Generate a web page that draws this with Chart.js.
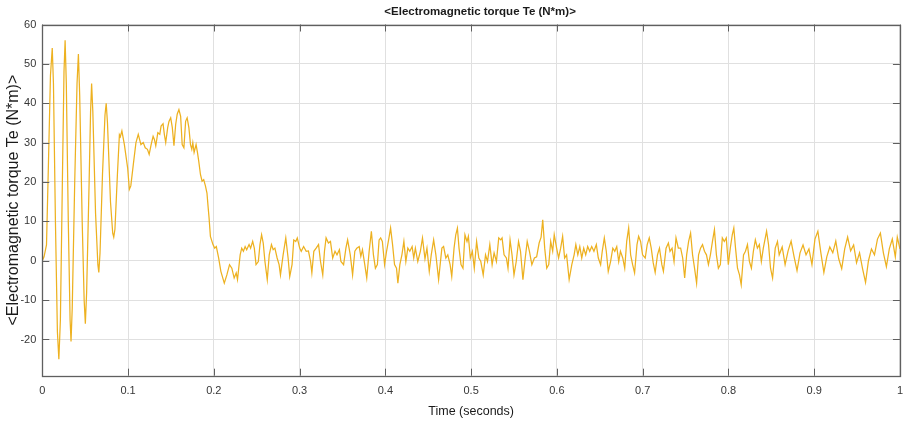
<!DOCTYPE html>
<html>
<head>
<meta charset="utf-8">
<script src="https://cdn.jsdelivr.net/npm/chart.js@4.4.1/dist/chart.umd.min.js"></script>
<style>
  html, body { margin: 0; padding: 0; background: #ffffff; }
  #wrap { width: 912px; height: 424px; position: relative; }
</style>
</head>
<body>
<div id="wrap"><canvas id="c" width="912" height="424"></canvas></div>
<script>
const chartTitle = "<Electromagnetic torque Te (N*m)>";
const xAxisTitle = "Time (seconds)";
const yAxisTitle = "<Electromagnetic torque Te (N*m)>";
const xTicks = [0, 0.1, 0.2, 0.3, 0.4, 0.5, 0.6, 0.7, 0.8, 0.9, 1];
const yTicks = [-20, -10, 0, 10, 20, 30, 40, 50, 60];

const timeS = [
  0, 0.0020, 0.0049, 0.0072, 0.0095, 0.0116, 0.0130, 0.0153, 0.0176, 0.0193,
  0.0211, 0.0234, 0.0253, 0.0266, 0.0280, 0.0303, 0.0324, 0.0335, 0.0349, 0.0378,
  0.0405, 0.0421, 0.0436, 0.0465, 0.0488, 0.0502, 0.0517, 0.0546, 0.0563, 0.0575,
  0.0589, 0.0621, 0.0648, 0.0659, 0.0673, 0.0702, 0.0731, 0.0745, 0.0760, 0.0795,
  0.0821, 0.0833, 0.0847, 0.0876, 0.0899, 0.0910, 0.0928, 0.0957, 0.0995, 0.1015,
  0.1032, 0.1061, 0.1092, 0.1119, 0.1150, 0.1177, 0.1200, 0.1226, 0.1246, 0.1269,
  0.1292, 0.1307, 0.1323, 0.1347, 0.1370, 0.1385, 0.1408, 0.1423, 0.1439, 0.1462,
  0.1477, 0.1497, 0.1516, 0.1535, 0.1555, 0.1573, 0.1593, 0.1613, 0.1631, 0.1651,
  0.1671, 0.1689, 0.1709, 0.1728, 0.1743, 0.1755, 0.1770, 0.1793, 0.1809, 0.1824,
  0.1844, 0.1863, 0.1882, 0.1902, 0.1920, 0.1932, 0.1944, 0.1960, 0.1990, 0.2010,
  0.2029, 0.2056, 0.2082, 0.2122, 0.2152, 0.2183, 0.2210, 0.2237, 0.2261, 0.2276,
  0.2307, 0.2325, 0.2345, 0.2365, 0.2383, 0.2411, 0.2429, 0.2453, 0.2472, 0.2492,
  0.2519, 0.2538, 0.2557, 0.2576, 0.2596, 0.2623, 0.2646, 0.2672, 0.2692, 0.2712,
  0.2738, 0.2761, 0.2777, 0.2808, 0.2839, 0.2866, 0.2885, 0.2912, 0.2932, 0.2955,
  0.2973, 0.3001, 0.3019, 0.3047, 0.3077, 0.3103, 0.3128, 0.3143, 0.3166, 0.3193,
  0.3221, 0.3244, 0.3270, 0.3290, 0.3309, 0.3336, 0.3360, 0.3386, 0.3413, 0.3436,
  0.3464, 0.3482, 0.3513, 0.3540, 0.3560, 0.3591, 0.3618, 0.3644, 0.3667, 0.3695,
  0.3714, 0.3733, 0.3760, 0.3783, 0.3811, 0.3837, 0.3861, 0.3884, 0.3907, 0.3927,
  0.3945, 0.3965, 0.3991, 0.4014, 0.4042, 0.4061, 0.4084, 0.4107, 0.4130, 0.4146,
  0.4169, 0.4193, 0.4216, 0.4239, 0.4262, 0.4285, 0.4312, 0.4331, 0.4350, 0.4378,
  0.4408, 0.4433, 0.4462, 0.4485, 0.4512, 0.4535, 0.4563, 0.4589, 0.4621, 0.4639,
  0.4659, 0.4679, 0.4705, 0.4728, 0.4755, 0.4774, 0.4801, 0.4821, 0.4840, 0.4859,
  0.4882, 0.4905, 0.4928, 0.4952, 0.4968, 0.4991, 0.5014, 0.5037, 0.5064, 0.5090,
  0.5113, 0.5141, 0.5168, 0.5191, 0.5218, 0.5245, 0.5268, 0.5295, 0.5322, 0.5345,
  0.5361, 0.5384, 0.5411, 0.5430, 0.5454, 0.5477, 0.5500, 0.5526, 0.5553, 0.5576,
  0.5604, 0.5631, 0.5654, 0.5680, 0.5708, 0.5738, 0.5764, 0.5793, 0.5816, 0.5835,
  0.5858, 0.5882, 0.5905, 0.5928, 0.5951, 0.5969, 0.5997, 0.6020, 0.6044, 0.6067,
  0.6090, 0.6113, 0.6143, 0.6174, 0.6201, 0.6221, 0.6244, 0.6267, 0.6290, 0.6313,
  0.6336, 0.6359, 0.6383, 0.6406, 0.6432, 0.6460, 0.6483, 0.6510, 0.6529, 0.6553,
  0.6576, 0.6599, 0.6626, 0.6652, 0.6675, 0.6698, 0.6721, 0.6741, 0.6768, 0.6791,
  0.6814, 0.6837, 0.6860, 0.6883, 0.6906, 0.6934, 0.6953, 0.6976, 0.6999, 0.7030,
  0.7053, 0.7077, 0.7100, 0.7123, 0.7146, 0.7173, 0.7196, 0.7224, 0.7242, 0.7273,
  0.7300, 0.7319, 0.7343, 0.7366, 0.7389, 0.7416, 0.7443, 0.7467, 0.7490, 0.7513,
  0.7536, 0.7559, 0.7582, 0.7605, 0.7629, 0.7652, 0.7675, 0.7698, 0.7721, 0.7744,
  0.7767, 0.7790, 0.7814, 0.7837, 0.7860, 0.7883, 0.7906, 0.7929, 0.7952, 0.7975,
  0.7999, 0.8022, 0.8045, 0.8063, 0.8083, 0.8106, 0.8129, 0.8149, 0.8176, 0.8199,
  0.8222, 0.8245, 0.8268, 0.8291, 0.8314, 0.8338, 0.8361, 0.8384, 0.8407, 0.8430,
  0.8445, 0.8468, 0.8491, 0.8515, 0.8546, 0.8572, 0.8592, 0.8627, 0.8661, 0.8696,
  0.8731, 0.8766, 0.8800, 0.8835, 0.8870, 0.8905, 0.8939, 0.8974, 0.9009, 0.9043,
  0.9078, 0.9113, 0.9147, 0.9182, 0.9217, 0.9252, 0.9286, 0.9321, 0.9356, 0.9390,
  0.9425, 0.9460, 0.9494, 0.9529, 0.9564, 0.9599, 0.9633, 0.9668, 0.9703, 0.9738,
  0.9772, 0.9807, 0.9842, 0.9876, 0.9911, 0.9946, 0.9969, 1.0000
];

const torqueNm = [
  0, 1, 4, 25, 47, 54, 45, 10, -18, -25,
  -15, 20, 48, 56, 45, 10, -15, -20.5, -12, 20,
  45, 52.5, 42, 10, -10, -16, -8, 20, 38, 45,
  38, 12, -1, -3, 2, 22, 37, 40, 35, 15,
  7, 6, 8, 22, 32, 31.5, 33, 29.5, 23.6, 18.1,
  19, 24.4, 30, 32.1, 29.5, 30, 28.7, 28.3, 27, 29.5,
  31.6, 30.8, 29.2, 32.5, 32.1, 34.2, 34.8, 32.1, 30, 33.8,
  35.4, 36.3, 33.8, 29.2, 34.6, 37.2, 38.4, 36.7, 29.5, 28.7,
  35.4, 36.3, 33.8, 29.5, 28.3, 30, 27.5, 29.5, 27.5, 25.3,
  21.9, 20.2, 20.6, 19, 17.2, 14, 11, 6.2, 4.1, 3.2,
  3.6, 0.7, -2.7, -5.7, -3.6, -1.0, -1.9, -4.4, -3.1, -4.8,
  1.5, 3.2, 2.4, 3.6, 2.8, 4.1, 3.2, 4.9, 3.2, -1.0,
  -0.2, 4.1, 6.6, 4.5, -0.2, -4.8, 1.5, 4.1, 2.8, 3.2,
  0.7, -1.0, -3.6, 1.5, 5.8, 0.7, -4.0, -1.0, 5.3, 4.9,
  5.8, 3.2, 2.4, 3.6, 2.4, 2.5, -0.2, -3.1, 2.4, 3.2,
  4.1, -0.2, -3.6, 2.4, 5.8, 4.5, 4.9, 0.7, 2.4, 1.5,
  2.8, -0.2, -1.0, 3.2, 5.3, 1.5, -3.6, 2.4, 3.2, 3.6,
  1.1, 2.8, -1.0, -4.4, 2.4, 7.5, 1.5, -1.9, -1.0, 5.3,
  5.8, 4.9, -1.0, 2.4, 5.8, 8.3, 4.1, -1.0, -1.9, -5.7,
  -1.0, 1.5, 4.9, -0.2, 3.2, 2.4, 3.6, 0.7, 3.2, -0.2,
  2.4, 5.8, 0.5, 3.2, -2.7, 1.5, 5.3, 1.5, -4.8, -1.0,
  3.2, 3.6, 0.7, 1.5, -1.0, -4.0, 3.2, 6.6, 8.3, 3.2,
  -1.0, -1.9, 6.6, 4.9, 6.2, 0.7, 2.4, -1.9, 4.9, 0.7,
  -0.2, -3.6, 1.5, -0.2, 4.1, -1.0, 2.0, -0.2, 5.8, 5.3,
  5.8, 1.5, 0.7, -1.9, 5.3, 1.5, -3.6, -0.2, 4.9, 2.4,
  -4.8, 0.7, 4.9, 2.4, -1.0, 0.7, 1.0, 4.5, 6.0, 10.4,
  3.2, -1.9, -1.0, 4.9, 2.4, 6.6, 3.2, 0.7, 3.2, 6.2,
  0.7, 1.5, -4.8, -1.0, 1.5, 4.1, 1.5, 3.6, 0.7, 3.2,
  1.5, 3.6, 2.4, 3.6, 2.4, 4.1, 0.7, -1.0, 2.4, 5.8,
  2.4, -2.7, -0.2, 3.2, 2.4, 3.6, -0.2, 2.4, 0.7, -1.9,
  4.9, 8.3, 1.5, -1.0, -3.1, 4.1, 6.2, 4.9, 1.5, 0.7,
  4.1, 5.8, 3.2, -0.5, -3.0, 1.5, 3.2, -1.0, -2.7, 3.2,
  4.5, 2.4, 3.2, -0.2, 5.8, 3.2, 3.2, 0.7, -4.4, 1.5,
  4.9, 7.0, 1.5, -1.9, -5.7, 1.5, 3.2, 4.1, 2.4, 1.5,
  -1.0, 1.5, 4.9, 7.9, 1.5, -1.9, -1.0, 5.8, 4.9, 5.8,
  -1.0, 3.2, 6.6, 8.3, 3.2, -1.9, -3.6, -6.1, 1.5, 2.4,
  4.1, -0.2, -1.9, 2.4, 5.3, 3.2, 4.1, -0.2, 3.2, 5.8,
  7.5, 4.1, -1.9, -4.4, 3.2, 4.9, 1.5, 3.5, -1, 2.5,
  5, 1, -2.5, 2, 4, 1.5, 3, -1, 5.5, 7.5,
  2, -3, 1, 3.5, 2, 5, 0.5, -2, 3, 6,
  2.5, 4, -0.5, 2, -2, -5.5, 0, 3, 1.5, 5.5,
  7, 2, -1.5, 3, 5.5, 1, 6, 3
];

const points = timeS.map((t, i) => ({ x: t, y: torqueNm[i] }));

const axisColor = '#5f5f5f';
const gridColor = '#e0e0e0';
const textColor = '#363636';
const sans = '"Liberation Sans", Arial, sans-serif';

const boxPlugin = {
  id: 'matlabBox',
  afterDatasetsDraw(chart) {
    const { ctx, chartArea: a, scales } = chart;
    ctx.save();
    ctx.strokeStyle = axisColor;
    ctx.lineWidth = 1;
    const tl = 7;
    ctx.beginPath();
    xTicks.forEach(v => {
      const px = Math.round(scales.x.getPixelForValue(v)) + 0.5;
      ctx.moveTo(px, a.bottom); ctx.lineTo(px, a.bottom - tl);
      ctx.moveTo(px, a.top); ctx.lineTo(px, a.top + tl);
    });
    yTicks.forEach(v => {
      const py = Math.round(scales.y.getPixelForValue(v)) + 0.5;
      ctx.moveTo(a.left, py); ctx.lineTo(a.left + tl, py);
      ctx.moveTo(a.right, py); ctx.lineTo(a.right - tl, py);
    });
    ctx.stroke();
    ctx.lineWidth = 1.3;
    ctx.strokeRect(Math.round(a.left) + 0.5, Math.round(a.top) + 0.5,
                   Math.round(a.right - a.left), Math.round(a.bottom - a.top));
    ctx.restore();
  },
  afterDraw(chart) {
    const { ctx, chartArea: a } = chart;
    ctx.save();
    ctx.fillStyle = '#1a1a1a';
    ctx.font = 'bold 11.5px ' + sans;
    ctx.textAlign = 'center';
    ctx.textBaseline = 'middle';
    ctx.fillText(chartTitle, (a.left + a.right) / 2 + 9, 12);
    ctx.restore();
  }
};

new Chart(document.getElementById('c'), {
  type: 'line',
  data: {
    datasets: [{
      data: points,
      borderColor: '#EDB120',
      borderWidth: 1.25,
      pointRadius: 0,
      tension: 0,
      fill: false
    }]
  },
  options: {
    responsive: false,
    animation: false,
    events: [],
    layout: { padding: { top: 24.5, right: 5.3, left: 0, bottom: 0 } },
    plugins: {
      legend: { display: false },
      title: { display: false },
      tooltip: { enabled: false }
    },
    scales: {
      x: {
        type: 'linear',
        min: 0,
        max: 1,
        afterBuildTicks: s => { s.ticks = xTicks.map(v => ({ value: v })); },
        afterFit: s => { s.height = 48.3; },
        grid: { color: gridColor, drawTicks: false },
        border: { display: false },
        ticks: {
          color: textColor,
          font: { family: sans, size: 11 },
          padding: 9,
          maxRotation: 0,
          autoSkip: false,
          callback: v => String(v)
        },
        title: {
          display: true,
          text: xAxisTitle,
          color: '#1a1a1a',
          font: { family: sans, size: 12.5 },
          padding: { top: 0, bottom: 5 }
        }
      },
      y: {
        type: 'linear',
        min: -29.2,
        max: 60,
        afterBuildTicks: s => { s.ticks = yTicks.map(v => ({ value: v })); },
        afterFit: s => { s.width = 42.3; },
        grid: { color: gridColor, drawTicks: false },
        border: { display: false },
        ticks: {
          color: textColor,
          font: { family: sans, size: 11 },
          padding: 6,
          autoSkip: false,
          callback: v => String(v)
        },
        title: {
          display: true,
          text: yAxisTitle,
          color: '#1a1a1a',
          font: { family: sans, size: 16 },
          padding: { top: 4, bottom: 0 }
        }
      }
    }
  },
  plugins: [boxPlugin]
});
</script>
</body>
</html>
